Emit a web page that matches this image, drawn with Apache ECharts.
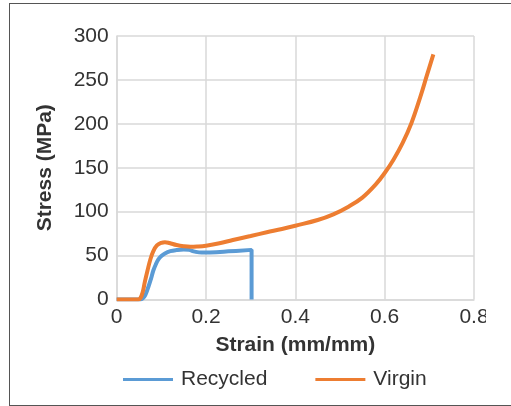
<!DOCTYPE html>
<html>
<head>
<meta charset="utf-8">
<script src="https://cdn.jsdelivr.net/npm/echarts@6/dist/echarts.min.js"></script>
<style>
  html, body { margin: 0; padding: 0; background: #fff; width: 511px; height: 406px; overflow: hidden; }
  #frame { position: absolute; left: 9px; top: 3px; width: 600px; height: 401px; border: 1px solid #555; box-sizing: content-box; }
  #chart { position: absolute; left: 0; top: 0; width: 486px; height: 406px; }
</style>
</head>
<body>
<div id="frame"></div>
<div id="chart"></div>
<script>
const seriesNames = ['Recycled', 'Virgin'];
const recycledStrain = [0, 0.053, 0.058, 0.064, 0.071, 0.077, 0.082, 0.088, 0.093, 0.1, 0.108, 0.12, 0.134, 0.15, 0.162, 0.175, 0.19, 0.209, 0.25, 0.302, 0.302];
const recycledStress = [0, 0, 1, 5, 14.5, 24, 33, 40.5, 45.5, 49.5, 52.5, 55, 56.3, 57, 56.5, 54.5, 53.4, 53.6, 54.8, 56.5, 0];
const virginStrain = [0, 0.048, 0.053, 0.058, 0.063, 0.069, 0.075, 0.082, 0.09, 0.1, 0.108, 0.118, 0.134, 0.15, 0.165, 0.18, 0.2, 0.23, 0.26, 0.3, 0.336, 0.37, 0.4, 0.45, 0.485, 0.52, 0.55, 0.58, 0.6, 0.62, 0.64, 0.66, 0.68, 0.695, 0.709];
const virginStress = [0, 0, 1.5, 8, 20, 33, 45, 55, 61.5, 64.5, 65.2, 64.3, 62, 60.6, 60, 60.3, 61.3, 64, 67.8, 72.3, 76.5, 80.3, 84, 90.5, 97, 106, 116, 131, 144, 159.5, 178, 201, 231, 256, 279];
const xTicks = [0, 0.2, 0.4, 0.6, 0.8];
const yTicks = [0, 50, 100, 150, 200, 250, 300];

const zip = (xs, ys) => xs.map((x, i) => [x, ys[i]]);
const font = '"Liberation Sans", Arial, sans-serif';

const chart = echarts.init(document.getElementById('chart'), null, { renderer: 'canvas' });
chart.setOption({
  animation: false,
  color: ['#5B9BD5', '#ED7D31'],
  grid: { left: 116.7, right: 12, top: 36, bottom: 106.5, containLabel: false, outerBoundsMode: 'none' },
  xAxis: {
    type: 'value', min: xTicks[0], max: xTicks[xTicks.length - 1], interval: 0.2,
    name: 'Strain (mm/mm)', nameLocation: 'middle', nameGap: 35,
    nameTextStyle: { fontFamily: font, fontSize: 21, fontWeight: 'bold', color: '#333' },
    axisLine: { show: true, lineStyle: { color: '#d9d9d9', width: 1.5 } },
    axisTick: { show: false },
    axisLabel: { fontFamily: font, fontSize: 21, color: '#333', margin: 7, hideOverlap: false },
    splitLine: { show: true, lineStyle: { color: '#d9d9d9', width: 1.5 } }
  },
  yAxis: {
    type: 'value', min: yTicks[0], max: yTicks[yTicks.length - 1], interval: 50,
    name: 'Stress (MPa)', nameLocation: 'middle', nameGap: 61,
    nameTextStyle: { fontFamily: font, fontSize: 21, fontWeight: 'bold', color: '#333' },
    axisLine: { show: true, lineStyle: { color: '#d9d9d9', width: 1.5 } },
    axisTick: { show: false },
    axisLabel: { fontFamily: font, fontSize: 21, color: '#333', margin: 8 },
    splitLine: { show: true, lineStyle: { color: '#d9d9d9', width: 1.5 } }
  },
  legend: {
    data: seriesNames, left: 118, top: 364, itemWidth: 50, itemHeight: 14, itemGap: 48,
    icon: 'path://M0,5.5 L50,5.5 L50,8.5 L0,8.5 Z',
    textStyle: { fontFamily: font, fontSize: 21, color: '#333', padding: [0, 0, 0, 3] }
  },
  series: [
    {
      name: seriesNames[0], type: 'line', data: zip(recycledStrain, recycledStress),
      symbol: 'none', smooth: 0.4, lineStyle: { width: 4, color: '#5B9BD5' }
    },
    {
      name: seriesNames[1], type: 'line', data: zip(virginStrain, virginStress),
      symbol: 'none', smooth: 0.4, lineStyle: { width: 4, color: '#ED7D31' }
    }
  ]
});
</script>
</body>
</html>
